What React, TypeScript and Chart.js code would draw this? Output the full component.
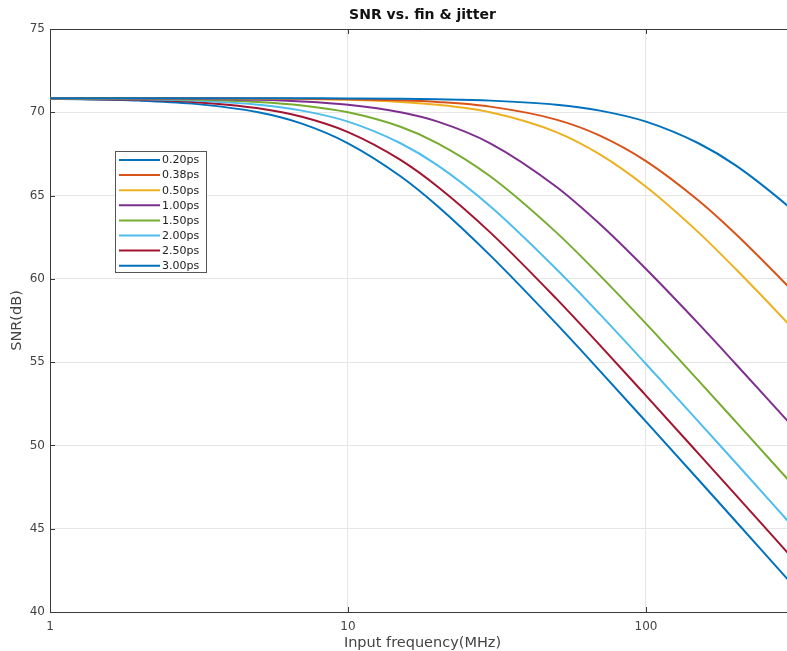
import React, { useEffect, useRef } from "react";
import { Chart, registerables } from "chart.js";

Chart.register(...registerables);

// Input frequency (MHz)
const frequencies = [1, 2, 3, 5, 7, 10, 15, 20, 30, 50, 70, 100, 150, 200, 300, 316];

const jitterLabels = ["0.20ps", "0.38ps", "0.50ps", "1.00ps", "1.50ps", "2.00ps", "2.50ps", "3.00ps"];

// SNR (dB)
const snr020 = [70.85, 70.85, 70.85, 70.85, 70.84, 70.83, 70.81, 70.78, 70.7, 70.45, 70.1, 69.44, 68.14, 66.81, 64.36, 64.0];
const snr038 = [70.85, 70.85, 70.84, 70.83, 70.82, 70.79, 70.72, 70.62, 70.34, 69.56, 68.6, 67.07, 64.7, 62.69, 59.55, 59.13];
const snr050 = [70.85, 70.85, 70.84, 70.82, 70.8, 70.75, 70.62, 70.45, 70.0, 68.81, 67.47, 65.53, 62.79, 60.59, 57.31, 56.87];
const snr100 = [70.85, 70.83, 70.81, 70.75, 70.65, 70.45, 70.0, 69.44, 68.14, 65.53, 63.29, 60.59, 57.31, 54.89, 51.43, 50.99];
const snr150 = [70.84, 70.81, 70.77, 70.62, 70.41, 70.0, 69.13, 68.14, 66.16, 62.79, 60.21, 57.31, 53.89, 51.43, 47.94, 47.49];
const snr200 = [70.83, 70.78, 70.7, 70.45, 70.1, 69.44, 68.14, 66.81, 64.36, 60.59, 57.88, 54.89, 51.43, 48.96, 45.45, 45.0];
const snr250 = [70.82, 70.75, 70.62, 70.24, 69.73, 68.81, 67.14, 65.53, 62.79, 58.81, 56.02, 52.99, 49.51, 47.03, 43.52, 43.07];
const snr300 = [70.81, 70.7, 70.52, 70.0, 69.32, 68.14, 66.16, 64.36, 61.41, 57.31, 54.48, 51.43, 47.94, 45.45, 41.93, 41.48];

const seriesValues = [snr020, snr038, snr050, snr100, snr150, snr200, snr250, snr300];

const seriesColors = ["#0072BD", "#D95319", "#EDB120", "#7E2F8E", "#77AC30", "#4DBEEE", "#A2142F", "#0072BD"];

const xTickValues = [1, 10, 100];
const yTickValues = [40, 45, 50, 55, 60, 65, 70, 75];

const titleText = "SNR vs. fin & jitter";
const xAxisTitle = "Input frequency(MHz)";
const yAxisTitle = "SNR(dB)";

const FONT = "'DejaVu Sans', sans-serif";
const AXIS_COLOR = "#3a3a3a";
const TEXT_COLOR = "#444444";

const decorPlugin = {
  id: "decor",
  afterDatasetsDraw(chart: any) {
    const { ctx, chartArea } = chart;
    const { left, right, top, bottom } = chartArea;
    const xs = chart.scales.x;
    const ys = chart.scales.y;
    ctx.save();
    ctx.strokeStyle = AXIS_COLOR;
    ctx.lineWidth = 1;
    // top border
    ctx.beginPath();
    ctx.moveTo(left, Math.round(top) + 0.5);
    ctx.lineTo(right, Math.round(top) + 0.5);
    ctx.stroke();
    // inward ticks
    ctx.beginPath();
    for (const v of yTickValues) {
      const y = Math.round(ys.getPixelForValue(v)) + 0.5;
      ctx.moveTo(left, y);
      ctx.lineTo(left + 5, y);
    }
    for (const v of xTickValues) {
      const x = Math.round(xs.getPixelForValue(v)) + 0.5;
      ctx.moveTo(x, bottom);
      ctx.lineTo(x, bottom - 5);
      ctx.moveTo(x, top);
      ctx.lineTo(x, top + 5);
    }
    ctx.stroke();

    // title
    ctx.fillStyle = "#111111";
    ctx.font = `bold 14px ${FONT}`;
    ctx.textAlign = "center";
    ctx.textBaseline = "middle";
    ctx.fillText(titleText, (left + right) / 2, 15);

    // legend
    const bx = 115.5;
    const by = 151.5;
    const bw = 91;
    const bh = 121;
    ctx.fillStyle = "#ffffff";
    ctx.fillRect(bx, by, bw, bh);
    ctx.strokeStyle = "#555555";
    ctx.lineWidth = 1;
    ctx.strokeRect(bx, by, bw, bh);
    ctx.font = `11px ${FONT}`;
    ctx.textAlign = "left";
    ctx.textBaseline = "middle";
    jitterLabels.forEach((lab, i) => {
      const y = 160 + i * 15.1;
      ctx.strokeStyle = seriesColors[i];
      ctx.lineWidth = 2;
      ctx.beginPath();
      ctx.moveTo(119, y);
      ctx.lineTo(160, y);
      ctx.stroke();
      ctx.fillStyle = "#222222";
      ctx.fillText(lab, 162, y + 0.5);
    });
    ctx.restore();
  },
};

export default function App() {
  const canvasRef = useRef<HTMLCanvasElement | null>(null);

  useEffect(() => {
    const canvas = canvasRef.current;
    if (!canvas) return;
    const datasets = seriesValues.map((vals, i) => ({
      label: jitterLabels[i],
      data: frequencies.map((f, j) => ({ x: f, y: vals[j] })),
      borderColor: seriesColors[i],
      backgroundColor: seriesColors[i],
      borderWidth: 2,
      pointRadius: 0,
      cubicInterpolationMode: "monotone" as const,
      fill: false,
    }));

    const chart = new Chart(canvas, {
      type: "line",
      data: { datasets },
      options: {
        responsive: false,
        animation: false,
        devicePixelRatio: 1,
        layout: { padding: { top: 29, right: 25, bottom: 0, left: 0 } },
        plugins: {
          legend: { display: false },
          title: { display: false },
          tooltip: { enabled: false },
        },
        scales: {
          x: {
            type: "logarithmic",
            min: 1,
            max: 316.23,
            afterBuildTicks: (s: any) => {
              s.ticks = xTickValues.map((v) => ({ value: v }));
            },
            afterFit: (s: any) => {
              s.height = 39;
            },
            ticks: {
              autoSkip: false,
              maxRotation: 0,
              padding: 8,
              color: TEXT_COLOR,
              font: { family: FONT, size: 12 },
              callback: (v: any) => String(v),
            },
            grid: { color: "#e6e6e6", drawTicks: false, lineWidth: 1 },
            border: { display: true, color: AXIS_COLOR, width: 1 },
            title: {
              display: true,
              text: xAxisTitle,
              color: TEXT_COLOR,
              font: { family: FONT, size: 14.5 },
              padding: { top: 0, bottom: -1 },
            },
          },
          y: {
            type: "linear",
            min: 40,
            max: 75,
            afterBuildTicks: (s: any) => {
              s.ticks = yTickValues.map((v) => ({ value: v }));
            },
            afterFit: (s: any) => {
              s.width = 50;
            },
            ticks: {
              padding: 5,
              color: TEXT_COLOR,
              font: { family: FONT, size: 12 },
            },
            grid: { color: "#e6e6e6", drawTicks: false, lineWidth: 1 },
            border: { display: true, color: AXIS_COLOR, width: 1 },
            title: {
              display: true,
              text: yAxisTitle,
              color: TEXT_COLOR,
              font: { family: FONT, size: 14.5 },
              padding: { top: 9, bottom: 0 },
            },
          },
        },
      },
      plugins: [decorPlugin],
    });
    return () => chart.destroy();
  }, []);

  return (
    <div
      style={{
        position: "absolute",
        left: 0,
        top: 0,
        width: 787,
        height: 651,
        overflow: "hidden",
        background: "#ffffff",
      }}
    >
      <canvas ref={canvasRef} width={820} height={651} style={{ display: "block" }} />
    </div>
  );
}
